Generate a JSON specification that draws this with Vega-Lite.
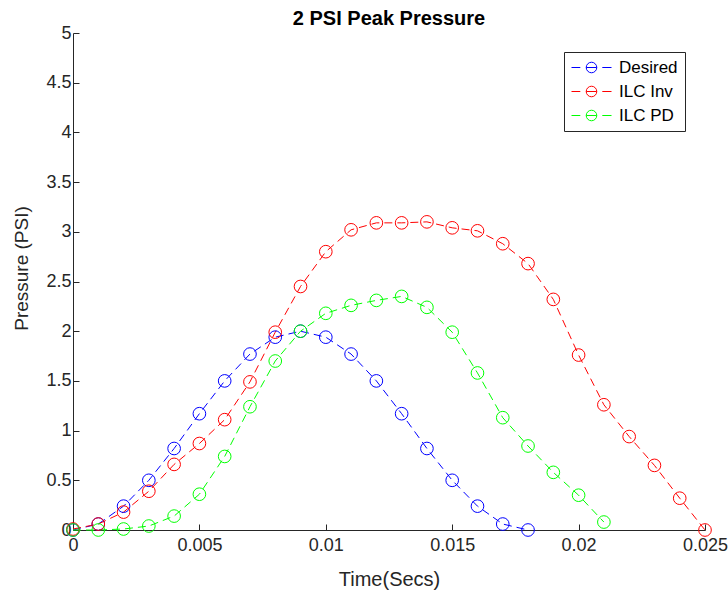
{
  "$schema": "https://vega.github.io/schema/vega-lite/v6.json",
  "width": 632,
  "height": 497,
  "autosize": {"type": "none"},
  "padding": {"left": 73, "top": 33, "right": 23, "bottom": 62},
  "background": "white",
  "title": {"text": "2 PSI Peak Pressure", "fontSize": 20, "fontWeight": "bold", "font": "Liberation Sans", "color": "#000000", "offset": 0, "dy": 21, "baseline": "alphabetic", "anchor": "middle"},
  "config": {
    "view": {"stroke": null},
    "font": "Liberation Sans",
    "axis": {"grid": false, "domainColor": "#262626", "tickColor": "#262626", "labelColor": "#262626", "titleColor": "#262626", "labelFont": "Liberation Sans", "titleFont": "Liberation Sans", "labelFontSize": 18, "titleFontSize": 19, "titleFontWeight": "normal", "tickSize": -6, "domainWidth": 1, "tickWidth": 1}
  },
  "data": {"values": [
    {"series": "Desired", "t": 0.000, "p": 0.00},
    {"series": "Desired", "t": 0.001, "p": 0.06},
    {"series": "Desired", "t": 0.002, "p": 0.24},
    {"series": "Desired", "t": 0.003, "p": 0.50},
    {"series": "Desired", "t": 0.004, "p": 0.82},
    {"series": "Desired", "t": 0.005, "p": 1.17},
    {"series": "Desired", "t": 0.006, "p": 1.50},
    {"series": "Desired", "t": 0.007, "p": 1.77},
    {"series": "Desired", "t": 0.008, "p": 1.94},
    {"series": "Desired", "t": 0.009, "p": 2.00},
    {"series": "Desired", "t": 0.010, "p": 1.94},
    {"series": "Desired", "t": 0.011, "p": 1.77},
    {"series": "Desired", "t": 0.012, "p": 1.50},
    {"series": "Desired", "t": 0.013, "p": 1.17},
    {"series": "Desired", "t": 0.014, "p": 0.82},
    {"series": "Desired", "t": 0.015, "p": 0.50},
    {"series": "Desired", "t": 0.016, "p": 0.24},
    {"series": "Desired", "t": 0.017, "p": 0.06},
    {"series": "Desired", "t": 0.018, "p": 0.00},
    {"series": "ILC Inv", "t": 0.000, "p": 0.01},
    {"series": "ILC Inv", "t": 0.001, "p": 0.06},
    {"series": "ILC Inv", "t": 0.002, "p": 0.18},
    {"series": "ILC Inv", "t": 0.003, "p": 0.39},
    {"series": "ILC Inv", "t": 0.004, "p": 0.66},
    {"series": "ILC Inv", "t": 0.005, "p": 0.87},
    {"series": "ILC Inv", "t": 0.006, "p": 1.11},
    {"series": "ILC Inv", "t": 0.007, "p": 1.49},
    {"series": "ILC Inv", "t": 0.008, "p": 1.99},
    {"series": "ILC Inv", "t": 0.009, "p": 2.45},
    {"series": "ILC Inv", "t": 0.010, "p": 2.80},
    {"series": "ILC Inv", "t": 0.011, "p": 3.02},
    {"series": "ILC Inv", "t": 0.012, "p": 3.09},
    {"series": "ILC Inv", "t": 0.013, "p": 3.09},
    {"series": "ILC Inv", "t": 0.014, "p": 3.10},
    {"series": "ILC Inv", "t": 0.015, "p": 3.04},
    {"series": "ILC Inv", "t": 0.016, "p": 3.01},
    {"series": "ILC Inv", "t": 0.017, "p": 2.88},
    {"series": "ILC Inv", "t": 0.018, "p": 2.68},
    {"series": "ILC Inv", "t": 0.019, "p": 2.32},
    {"series": "ILC Inv", "t": 0.020, "p": 1.76},
    {"series": "ILC Inv", "t": 0.021, "p": 1.26},
    {"series": "ILC Inv", "t": 0.022, "p": 0.94},
    {"series": "ILC Inv", "t": 0.023, "p": 0.65},
    {"series": "ILC Inv", "t": 0.024, "p": 0.32},
    {"series": "ILC Inv", "t": 0.025, "p": 0.00},
    {"series": "ILC PD", "t": 0.000, "p": 0.00},
    {"series": "ILC PD", "t": 0.001, "p": 0.00},
    {"series": "ILC PD", "t": 0.002, "p": 0.01},
    {"series": "ILC PD", "t": 0.003, "p": 0.04},
    {"series": "ILC PD", "t": 0.004, "p": 0.14},
    {"series": "ILC PD", "t": 0.005, "p": 0.36},
    {"series": "ILC PD", "t": 0.006, "p": 0.74},
    {"series": "ILC PD", "t": 0.007, "p": 1.24},
    {"series": "ILC PD", "t": 0.008, "p": 1.70},
    {"series": "ILC PD", "t": 0.009, "p": 2.00},
    {"series": "ILC PD", "t": 0.010, "p": 2.18},
    {"series": "ILC PD", "t": 0.011, "p": 2.26},
    {"series": "ILC PD", "t": 0.012, "p": 2.31},
    {"series": "ILC PD", "t": 0.013, "p": 2.35},
    {"series": "ILC PD", "t": 0.014, "p": 2.24},
    {"series": "ILC PD", "t": 0.015, "p": 1.99},
    {"series": "ILC PD", "t": 0.016, "p": 1.58},
    {"series": "ILC PD", "t": 0.017, "p": 1.13},
    {"series": "ILC PD", "t": 0.018, "p": 0.845},
    {"series": "ILC PD", "t": 0.019, "p": 0.58},
    {"series": "ILC PD", "t": 0.020, "p": 0.35},
    {"series": "ILC PD", "t": 0.021, "p": 0.08}
  ]},
  "mark": {"type": "line", "strokeWidth": 1, "strokeDash": [8, 5], "clip": false, "point": {"filled": false, "size": 160, "strokeWidth": 1, "shape": "circle"}},
  "encoding": {
    "x": {"field": "t", "type": "quantitative", "title": "Time(Secs)",
      "scale": {"domain": [0, 0.025], "nice": false, "zero": false},
      "axis": {"values": [0, 0.005, 0.01, 0.015, 0.02, 0.025], "format": "~g", "labelPadding": 12, "titleBaseline": "alphabetic", "titleY": 55, "titleFontSize": 20, "labelFlush": false}},
    "y": {"field": "p", "type": "quantitative", "title": "Pressure (PSI)",
      "scale": {"domain": [0, 5], "nice": false},
      "axis": {"values": [0, 0.5, 1, 1.5, 2, 2.5, 3, 3.5, 4, 4.5, 5], "format": "~g", "labelPadding": 8, "titleBaseline": "alphabetic", "titleX": -46, "titleY": 235, "labelFlush": false}},
    "color": {"field": "series", "type": "nominal",
      "scale": {"domain": ["Desired", "ILC Inv", "ILC PD"], "range": ["#0000FF", "#FF0000", "#00FF00"]},
      "legend": {"orient": "none", "legendX": 491, "legendY": 19, "title": null,
        "symbolType": "M-1,0H0.1M2.85,0H4M0.84,0A0.66,0.66 0 1,1 2.16,0A0.66,0.66 0 1,1 0.84,0M0.84,0H2.16",
        "symbolSize": 256, "symbolStrokeWidth": 1, "symbolFillColor": "transparent", "symbolDash": [],
        "labelFontSize": 17, "labelFont": "Liberation Sans", "labelColor": "#000000", "labelOffset": 31,
        "rowPadding": 6, "padding": 7, "strokeColor": "#262626", "fillColor": "white"}}
  }
}
